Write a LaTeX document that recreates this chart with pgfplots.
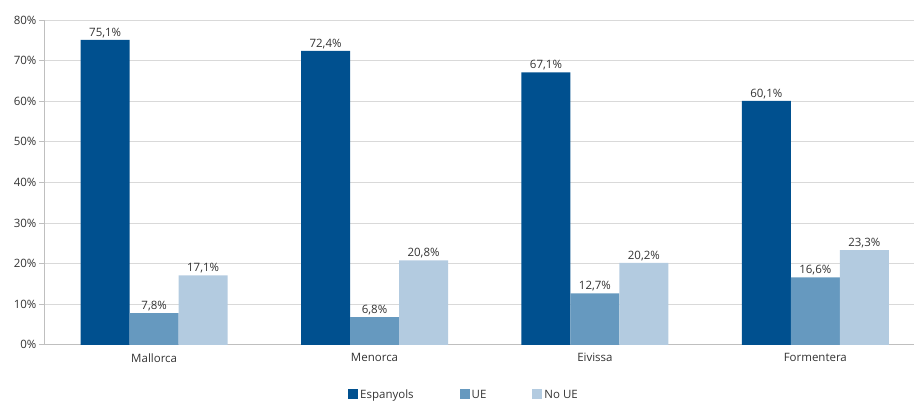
\documentclass[border=0pt]{standalone}
\usepackage{pgfplots}
\pgfplotsset{compat=1.18}
\usepackage{fontspec}
\setmainfont{Open Sans}
\definecolor{esp}{HTML}{00508F}
\definecolor{ue}{HTML}{6699BF}
\definecolor{noue}{HTML}{B3CBE0}
\definecolor{gridc}{HTML}{D9D9D9}
\definecolor{axc}{HTML}{BFBFBF}
\definecolor{txt}{HTML}{333333}
\begin{document}
\begin{tikzpicture}
\begin{axis}[
    name=ax,
    scale only axis,
    width=870pt, height=325pt,
    ybar=0pt, bar width=49pt,
    xmin=-0.5, xmax=3.446,
    ymin=0, ymax=80,
    axis x line=bottom, axis y line=left,
    axis line style={-, axc, line width=0.8pt},
    xtick={0,1,2,3},
    xticklabels={Mallorca,Menorca,Eivissa,Formentera},
    x tick style={draw=none},
    extra x ticks={-0.5,0.5,1.5,2.5},
    extra x tick labels={},
    extra x tick style={major tick length=8pt, tick align=outside, tick style={draw=axc, line width=0.8pt}},
    ytick={0,10,...,80},
    yticklabels={0\%,10\%,20\%,30\%,40\%,50\%,60\%,70\%,80\%},
    y tick style={draw=axc, line width=0.8pt},
    major tick length=5pt, tick align=outside,
    ymajorgrids, grid style={gridc, line width=0.8pt},
    tick label style={font=\fontsize{11.5}{13}\selectfont, text=txt},
    yticklabel style={xshift=1pt},
    /pgf/number format/assume math mode=true,
    nodes near coords={\pgfmathprintnumber[fixed,fixed zerofill,precision=1,use comma]{\pgfplotspointmeta}\%},
    every node near coord/.append style={font=\fontsize{11.5}{13}\selectfont, text=txt, inner sep=2pt},
    legend style={draw=none, fill=none, at={(0.483,-0.155)}, anchor=center,
        legend columns=3, font=\fontsize{11.5}{13}\selectfont, text=txt,
        /tikz/every even column/.append style={column sep=44pt}},
    legend image code/.code={\fill[#1] (0pt,-4pt) rectangle (10pt,6pt);},
    clip=false,
]
\addplot[fill=esp, draw=none] coordinates {(0,75.1) (1,72.4) (2,67.1) (3,60.1)};
\addplot[fill=ue, draw=none] coordinates {(0,7.8) (1,6.8) (2,12.7) (3,16.6)};
\addplot[fill=noue, draw=none] coordinates {(0,17.1) (1,20.8) (2,20.2) (3,23.3)};
\legend{Espanyols, UE, No UE}
\end{axis}
\path (ax.south west) ++(-44pt,-58pt) rectangle ++(914pt,403pt);
\end{tikzpicture}
\end{document}
